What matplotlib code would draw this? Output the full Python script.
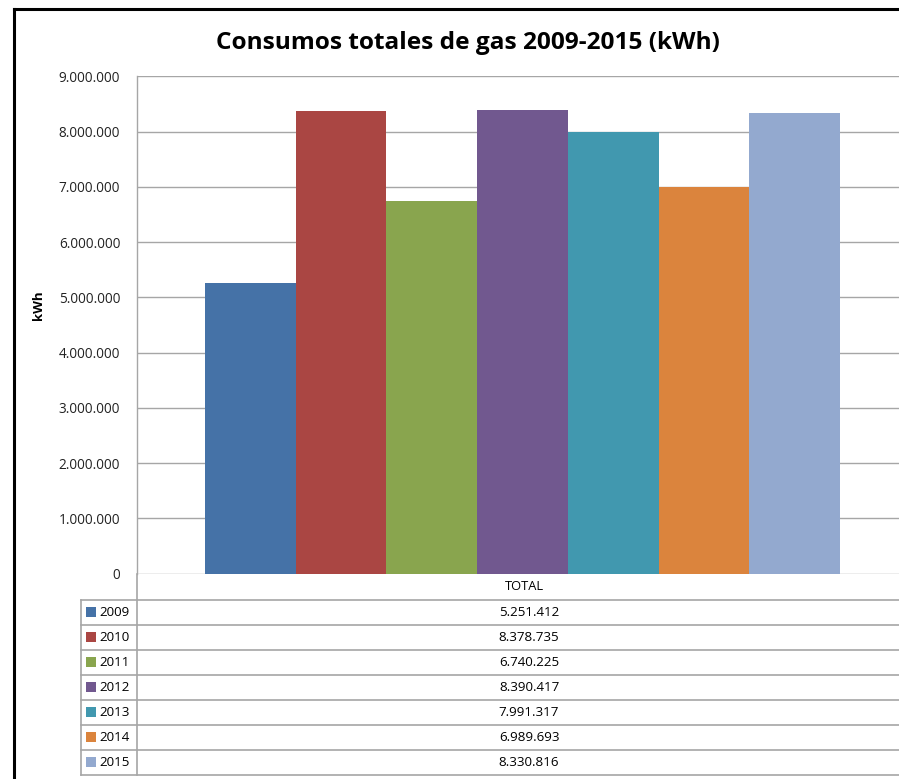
import matplotlib
matplotlib.use("Agg")
import matplotlib.pyplot as plt
from matplotlib.patches import Rectangle
from matplotlib.lines import Line2D
from matplotlib.ticker import FuncFormatter

title = "Consumos totales de gas 2009-2015 (kWh)"
category = "TOTAL"
years = ["2009", "2010", "2011", "2012", "2013", "2014", "2015"]
values = [5251412, 8378735, 6740225, 8390417, 7991317, 6989693, 8330816]
colors = ["#4572A7", "#AA4643", "#89A54E", "#71588F", "#4198AF", "#DB843D", "#93A9CF"]
yticks = [0, 1000000, 2000000, 3000000, 4000000, 5000000, 6000000, 7000000, 8000000, 9000000]

def fmt(v):
    return f"{int(v):,}".replace(",", ".")

plt.rcParams['font.family'] = ['Open Sans', 'DejaVu Sans']

W, H = 899, 779
fig = plt.figure(figsize=(W / 100, H / 100), dpi=100)

def fx(px):
    return px / W

def fy(py):
    return 1 - py / H

# outer chart border (only left and top edges are visible)
fig.add_artist(Line2D([fx(14), fx(14)], [fy(9), fy(800)], transform=fig.transFigure,
                      color='black', lw=2.2, solid_capstyle='projecting'))
fig.add_artist(Line2D([fx(14), fx(920)], [fy(9), fy(9)], transform=fig.transFigure,
                      color='black', lw=2.2, solid_capstyle='projecting'))

left, right, top, bottom = 137, 908, 76.4, 573.5
ax = fig.add_axes([fx(left), fy(bottom), fx(right - left), fy(top) - fy(bottom)])

n = len(years)
bw = 90.7 / (right - left)
start = 0.5 - n * bw / 2
for i, (yr, v, c) in enumerate(zip(years, values, colors)):
    ax.bar(start + (i + 0.5) * bw, v, width=bw, color=c, edgecolor='none', zorder=2)

ax.set_xlim(0, 1)
ax.set_ylim(0, 9000000)
ax.set_yticks(yticks)
ax.yaxis.set_major_formatter(FuncFormatter(lambda v, p: fmt(v)))
ax.tick_params(axis='y', length=0, pad=12, labelsize=9.8, colors='#222222')
ax.set_xticks([])
ax.grid(axis='y', color='#a6a6a6', lw=1.0, zorder=0)
for s in ['top', 'right', 'bottom']:
    ax.spines[s].set_visible(False)
ax.spines['left'].set_color('#a6a6a6')
ax.spines['left'].set_linewidth(1.0)
ax.set_ylabel("kWh", fontsize=9.5, fontweight='bold')
ax.yaxis.set_label_coords((45 - left) / (right - left), 0.54)

fig.text(fx(468), fy(43), title, ha='center', va='center', fontsize=17.6, fontweight='bold')

# data table
gray = '#a6a6a6'
row_h = 25.05
header_top = 573.5
header_bot = 599.5
fig.text(fx(524), fy((header_top + header_bot) / 2), category, ha='center', va='center', fontsize=9.3)
lines_y = [header_bot + k * row_h for k in range(n + 1)]
for yv in lines_y:
    fig.add_artist(Line2D([fx(81), fx(920)], [fy(yv), fy(yv)], transform=fig.transFigure,
                          color=gray, lw=1.2))
fig.add_artist(Line2D([fx(81), fx(81)], [fy(lines_y[0]), fy(lines_y[-1])], transform=fig.transFigure,
                      color=gray, lw=1.2))
fig.add_artist(Line2D([fx(137), fx(137)], [fy(header_top), fy(lines_y[-1])], transform=fig.transFigure,
                      color=gray, lw=1.2))
for i, (yr, v, c) in enumerate(zip(years, values, colors)):
    yc = header_bot + (i + 0.5) * row_h
    fig.add_artist(Rectangle((fx(86), fy(yc + 5)), fx(10), fy(yc - 5) - fy(yc + 5),
                             transform=fig.transFigure, facecolor=c, edgecolor='none'))
    fig.text(fx(99.5), fy(yc), yr, ha='left', va='center', fontsize=9.6)
    fig.text(fx(529), fy(yc), fmt(v), ha='center', va='center', fontsize=9.6)

fig.savefig("out.png", dpi=100)
